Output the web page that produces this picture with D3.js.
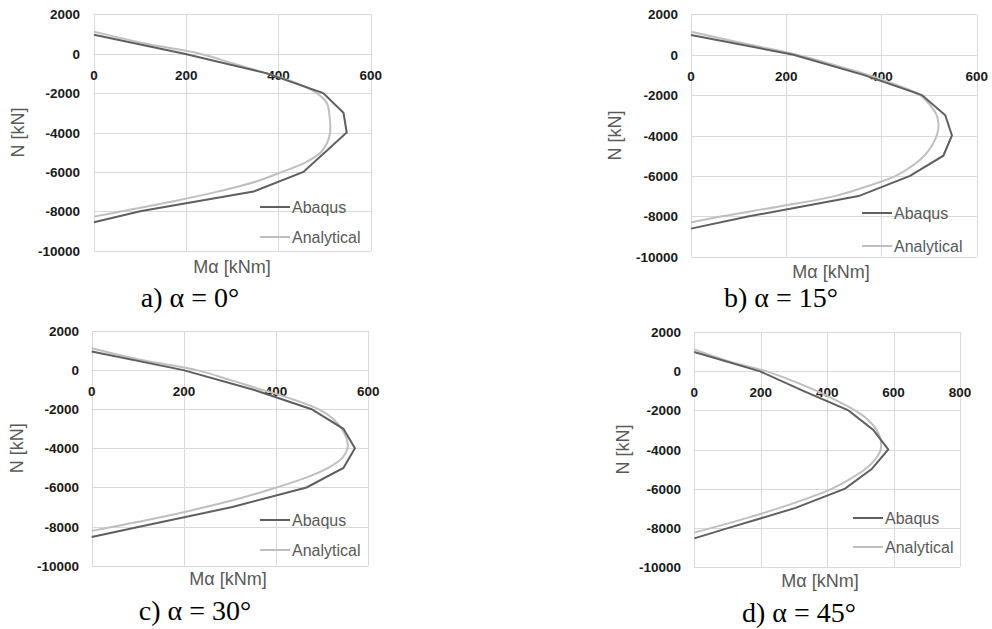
<!DOCTYPE html>
<html>
<head>
<meta charset="utf-8">
<script src="https://cdn.jsdelivr.net/npm/d3@7"></script>
<style>
  body { margin: 0; background: #fff; }
  svg text { font-family: "Liberation Sans", Arial, sans-serif; }
</style>
</head>
<body>
<div id="chart"></div>
<script>
'use strict';

// ---- data ----
var yTicks = [2000, 0, -2000, -4000, -6000, -8000, -10000];
var seriesNames = ['Abaqus', 'Analytical'];
var captions = ['a) α = 0°', 'b) α = 15°', 'c) α = 30°', 'd) α = 45°'];

// Abaqus points, N [kN] and Mα [kNm]
var aAbaqusN = [960, 0, -1000, -2000, -3000, -4000, -5000, -6000, -7000, -8000, -8560];
var aAbaqusM = [0, 196, 375, 497, 541, 548, 501, 454, 346, 100, 0];
var bAbaqusN = [975, 0, -1000, -2000, -3000, -4000, -5000, -6000, -7000, -8000, -8610];
var bAbaqusM = [0, 215, 362, 485, 534, 548, 530, 460, 352, 122, 0];
var cAbaqusN = [952, 0, -1000, -2000, -3000, -4000, -5000, -6000, -7000, -8000, -8530];
var cAbaqusM = [0, 199, 351, 477, 546, 571, 546, 466, 305, 106, 0];
var dAbaqusN = [988, 0, -1000, -2000, -3000, -4000, -5000, -6000, -7000, -8000, -8550];
var dAbaqusM = [0, 198, 328, 464, 539, 584, 534, 454, 303, 106, 0];

// Analytical points
var aAnalyticalN = [1120, 500, 0, -500, -1000, -1500, -2000, -2500, -3000, -3500, -4000, -4500, -5000, -5500, -6000, -6500, -7000, -7500, -8000, -8270];
var aAnalyticalM = [0, 114, 230, 302, 375, 440, 483, 505, 510, 512, 512, 506, 492, 460, 408, 350, 268, 170, 60, 0];
var bAnalyticalN = [1140, 500, 0, -500, -1000, -1500, -2000, -2500, -3000, -3500, -4000, -4500, -5000, -5500, -6000, -6500, -7000, -7500, -8000, -8310];
var bAnalyticalM = [0, 122, 222, 299, 372, 432, 481, 502, 516, 520, 516, 506, 490, 465, 430, 372, 302, 188, 65, 0];
var cAnalyticalN = [1120, 500, 0, -500, -1000, -1500, -2000, -2500, -3000, -3500, -4000, -4500, -5000, -5500, -6000, -6500, -7000, -7500, -8000, -8220];
var cAnalyticalM = [0, 112, 228, 300, 369, 437, 492, 524, 542, 553, 555, 543, 513, 465, 401, 330, 247, 155, 49, 0];
var dAnalyticalN = [1124, 500, 0, -500, -1000, -1500, -2000, -2500, -3000, -3500, -4000, -4500, -5000, -5500, -6000, -6500, -7000, -7500, -8000, -8245];
var dAnalyticalM = [0, 107, 218, 298, 368, 429, 484, 524, 549, 561, 561, 545, 515, 470, 415, 340, 255, 160, 55, 0];

var xMaxes = [600, 600, 600, 800];

// ---- layout ----
var width = 992, height = 629;
var colors = { Abaqus: '#5f5f5f', Analytical: '#bfbfbf' };

var zip = function(n, m){
  return n.map(function(v, i){ return { n: v, m: m[i] }; });
};

var panels = [
  { left: 94,    right: 370.7, top: 14.3,  bottom: 250.7, labRight: 80,  xt: 232, xtY: 273, ytX: 18,  legX: 260, legY: 207, legGap: 30, capX: 190, capY: 307,
    abaqus: zip(aAbaqusN, aAbaqusM), analytical: zip(aAnalyticalN, aAnalyticalM) },
  { left: 691,   right: 976.7, top: 14.3,  bottom: 256.7, labRight: 678, xt: 831, xtY: 278, ytX: 615, legX: 862, legY: 213, legGap: 33, capX: 781, capY: 307,
    abaqus: zip(bAbaqusN, bAbaqusM), analytical: zip(bAnalyticalN, bAnalyticalM) },
  { left: 91.7,  right: 368.3, top: 331,   bottom: 565.7, labRight: 79,  xt: 228, xtY: 585, ytX: 17,  legX: 260, legY: 520, legGap: 30, capX: 195, capY: 620,
    abaqus: zip(cAbaqusN, cAbaqusM), analytical: zip(cAnalyticalN, cAnalyticalM) },
  { left: 694.3, right: 960,   top: 332.3, bottom: 566.7, labRight: 681, xt: 820, xtY: 587, ytX: 623, legX: 853, legY: 518, legGap: 29, capX: 799, capY: 622,
    abaqus: zip(dAbaqusN, dAbaqusM), analytical: zip(dAnalyticalN, dAnalyticalM) }
];

var svg = d3.select('#chart').append('svg')
  .attr('width', width)
  .attr('height', height);

panels.forEach(function(p, i){
  var xMax = xMaxes[i];
  var x = d3.scaleLinear().domain([0, xMax]).range([p.left, p.right]);
  var y = d3.scaleLinear().domain([-10000, 2000]).range([p.bottom, p.top]);
  var xTicks = d3.range(0, xMax + 1, 200);
  var g = svg.append('g');

  // gridlines
  g.selectAll('.hg').data(yTicks).enter().append('line')
    .attr('x1', p.left).attr('x2', p.right)
    .attr('y1', function(d){ return Math.round(y(d)) + 0.5; })
    .attr('y2', function(d){ return Math.round(y(d)) + 0.5; })
    .attr('stroke', '#d9d9d9').attr('stroke-width', 1);
  g.selectAll('.vg').data(xTicks).enter().append('line')
    .attr('y1', p.top).attr('y2', p.bottom)
    .attr('x1', function(d){ return Math.round(x(d)) + 0.5; })
    .attr('x2', function(d){ return Math.round(x(d)) + 0.5; })
    .attr('stroke', '#d9d9d9').attr('stroke-width', 1);

  // y tick labels
  g.selectAll('.yl').data(yTicks).enter().append('text')
    .attr('x', p.labRight)
    .attr('y', function(d){ return y(d) + 5; })
    .attr('text-anchor', 'end')
    .attr('font-size', 13.5).attr('font-weight', 'bold').attr('fill', '#1a1a1a')
    .text(function(d){ return d; });

  // x tick labels sit just under the N = 0 axis
  g.selectAll('.xl').data(xTicks).enter().append('text')
    .attr('x', function(d){ return x(d); })
    .attr('y', y(0) + 26)
    .attr('text-anchor', 'middle')
    .attr('font-size', 13.5).attr('font-weight', 'bold').attr('fill', '#1a1a1a')
    .text(function(d){ return d; });

  // axis titles
  g.append('text')
    .attr('x', p.xt).attr('y', p.xtY)
    .attr('text-anchor', 'middle')
    .attr('font-size', 18).attr('fill', '#595959')
    .text('Mα [kNm]');
  g.append('text')
    .attr('transform', 'translate(' + (p.ytX + 6) + ',' + ((p.top + p.bottom) / 2) + ') rotate(-90)')
    .attr('text-anchor', 'middle')
    .attr('font-size', 18).attr('fill', '#595959')
    .text('N [kN]');

  // curves
  var line = d3.line()
    .x(function(d){ return x(d.m); })
    .y(function(d){ return y(d.n); });
  g.append('path').datum(p.analytical)
    .attr('d', line.curve(d3.curveCatmullRom)(p.analytical))
    .attr('fill', 'none').attr('stroke', colors.Analytical).attr('stroke-width', 2);
  g.append('path').datum(p.abaqus)
    .attr('d', line.curve(d3.curveLinear)(p.abaqus))
    .attr('fill', 'none').attr('stroke', colors.Abaqus).attr('stroke-width', 2);

  // legend
  seriesNames.forEach(function(name, k){
    var ly = p.legY + k * p.legGap;
    g.append('line')
      .attr('x1', p.legX).attr('x2', p.legX + 30)
      .attr('y1', ly).attr('y2', ly)
      .attr('stroke', colors[name]).attr('stroke-width', 2);
    g.append('text')
      .attr('x', p.legX + 32).attr('y', ly + 6)
      .attr('font-size', 16).attr('fill', '#595959')
      .text(name);
  });

  // caption
  svg.append('text')
    .attr('x', p.capX).attr('y', p.capY)
    .attr('text-anchor', 'middle')
    .style('font-family', '"Liberation Serif", "Times New Roman", serif')
    .attr('font-size', 28).attr('fill', '#000')
    .text(captions[i]);
});
</script>
</body>
</html>
